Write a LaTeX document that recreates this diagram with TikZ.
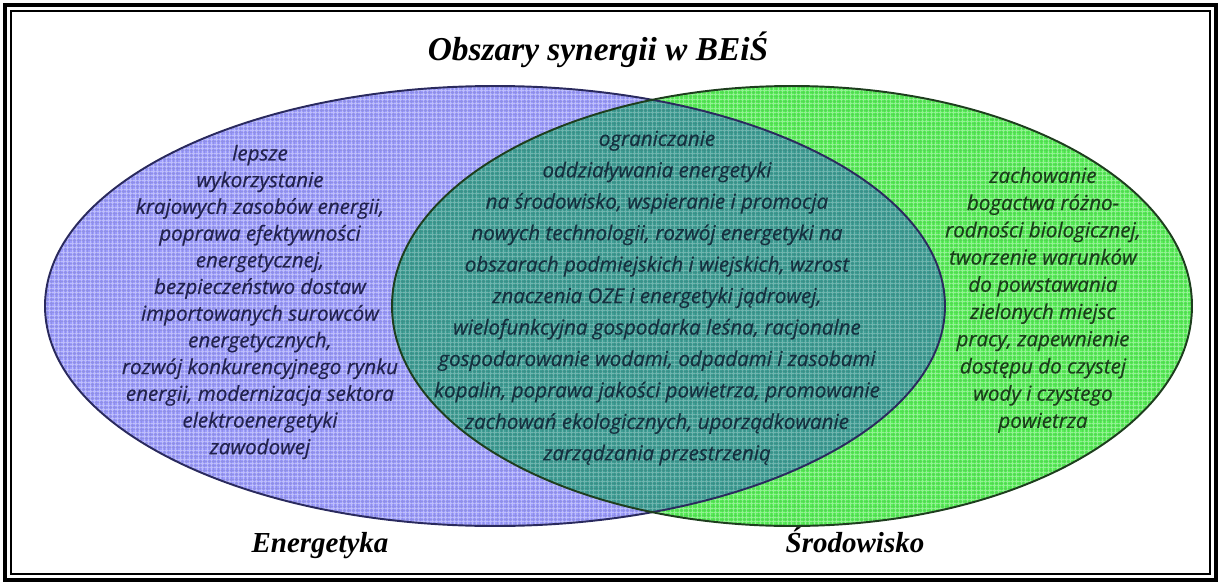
\documentclass[tikz,border=0pt]{standalone}
\usepackage{fontspec}
\setmainfont{Liberation Serif}
\newfontfamily\venntext{Open Sans}
\usetikzlibrary{positioning}
\definecolor{blueset}{HTML}{9C9CFC}
\definecolor{greenset}{HTML}{58EE58}
\definecolor{bothset}{HTML}{3F9E95}
\definecolor{bluetext}{HTML}{22224E}
\definecolor{bothtext}{HTML}{15303F}
\definecolor{greentext}{HTML}{1A3F1A}
\definecolor{blueline}{HTML}{2A2A5E}
\definecolor{greenline}{HTML}{1E3E1E}

\begin{document}
\begin{tikzpicture}[
    x=0.02cm,y=-0.02cm,
    setlabel/.style={font=\fontsize{16.5}{18}\selectfont\bfseries\itshape,anchor=base},
    areatext/.style={align=center,inner sep=0pt},
    weave/.style={draw=white,opacity=0.35,line width=0.45pt,step=0.09cm},
    darkweave/.style={draw=black,opacity=0.08,line width=0.45pt,step=0.09cm}
  ]
  \useasboundingbox (0,0) rectangle (1221,585);
  \draw[line width=2pt] (5,5) rectangle (1216,580);
  \draw[line width=0.8pt] (11,11) rectangle (1210,574);
  \begin{scope}
    \clip (495,306) ellipse [x radius=450, y radius=220];
    \fill[blueset] (0,0) rectangle (1221,585);
    \draw[weave] (0,0) grid (1221,585);
    \draw[darkweave,xshift=0.045cm,yshift=0.045cm] (0,0) grid (1221,585);
  \end{scope}
  \begin{scope}
    \clip (792,306) ellipse [x radius=400, y radius=220];
    \fill[greenset] (0,0) rectangle (1221,585);
    \draw[weave] (0,0) grid (1221,585);
    \draw[darkweave,xshift=0.045cm,yshift=0.045cm] (0,0) grid (1221,585);
  \end{scope}
  \begin{scope}
    \clip (495,306) ellipse [x radius=450, y radius=220];
    \clip (792,306) ellipse [x radius=400, y radius=220];
    \fill[bothset] (0,0) rectangle (1221,585);
    \draw[weave,opacity=0.25] (0,0) grid (1221,585);
    \draw[darkweave,xshift=0.045cm,yshift=0.045cm] (0,0) grid (1221,585);
  \end{scope}
  \draw[blueline,line width=1.1pt] (495,306) ellipse [x radius=450, y radius=220];
  \draw[greenline,line width=1.1pt] (792,306) ellipse [x radius=400, y radius=220];
  \node[setlabel,font=\fontsize{19}{22}\selectfont\bfseries\itshape] (title) at (598,60) {Obszary synergii w BEiŚ};
  \node[setlabel] (energ) at (320,552) {Energetyka};
  \node[setlabel] (srod) at (855,552) {Środowisko};
  \node[areatext,text=bluetext,font=\venntext\itshape\addfontfeature{FakeBold=0.5}\fontsize{11.7}{15.2}\selectfont] (lewy) at (260,302) {lepsze\\wykorzystanie\\krajowych zasobów energii,\\poprawa efektywności\\energetycznej,\\bezpieczeństwo dostaw\\importowanych surowców\\energetycznych,\\rozwój konkurencyjnego rynku\\energii, modernizacja sektora\\elektroenergetyki\\zawodowej};
  \node[areatext,text=bothtext,font=\venntext\itshape\addfontfeature{FakeBold=0.5}\fontsize{11.7}{17.9}\selectfont] (wspolny) at (657,298) {ograniczanie\\oddziaływania energetyki\\na środowisko, wspieranie i promocja\\nowych technologii, rozwój energetyki na\\obszarach podmiejskich i wiejskich, wzrost\\znaczenia OZE i energetyki jądrowej,\\wielofunkcyjna gospodarka leśna, racjonalne\\gospodarowanie wodami, odpadami i zasobami\\kopalin, poprawa jakości powietrza, promowanie\\zachowań ekologicznych, uporządkowanie\\zarządzania przestrzenią};
  \node[areatext,text=greentext,font=\venntext\itshape\addfontfeature{FakeBold=0.5}\fontsize{11.7}{15.5}\selectfont] (prawy) at (1043,300) {zachowanie\\bogactwa różno-\\rodności biologicznej,\\tworzenie warunków\\do powstawania\\zielonych miejsc\\pracy, zapewnienie\\dostępu do czystej\\wody i czystego\\powietrza};
\end{tikzpicture}
\end{document}
